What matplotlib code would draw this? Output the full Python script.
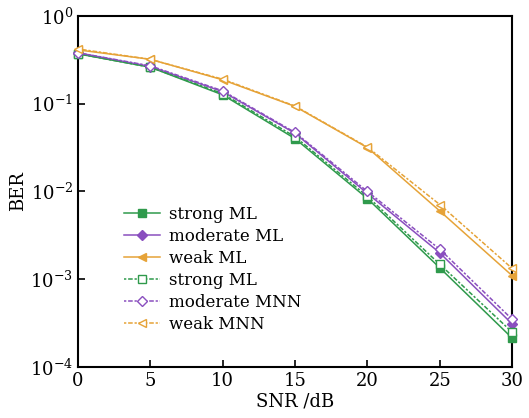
import matplotlib
matplotlib.use("Agg")
import matplotlib.pyplot as plt
from matplotlib.ticker import LogLocator, NullLocator

# --- data ---
snr = [0, 5, 10, 15, 20, 25, 30]
strong_ml = [0.37, 0.26, 0.126, 0.040, 0.0083, 0.00135, 0.000214]
moderate_ml = [0.38, 0.265, 0.137, 0.046, 0.0095, 0.0020, 0.00031]
weak_ml = [0.41, 0.32, 0.187, 0.093, 0.0316, 0.0060, 0.00110]
strong_mnn = [0.37, 0.26, 0.13, 0.042, 0.0088, 0.00148, 0.00025]
moderate_mnn = [0.38, 0.27, 0.14, 0.047, 0.0100, 0.0022, 0.00035]
weak_mnn = [0.42, 0.32, 0.19, 0.094, 0.0320, 0.0071, 0.00133]

GREEN = "#2f9a4c"
PURPLE = "#8a4fbf"
ORANGE = "#e6a338"

plt.rcParams.update({
    "font.family": "DejaVu Serif",
    "font.size": 12,
    "mathtext.fontset": "dejavuserif",
})

fig = plt.figure(figsize=(5.29, 4.18), dpi=100)
ax = fig.add_axes([0.1474, 0.122, 0.8206, 0.840])

series = [
    (strong_ml, GREEN, "-", "s", True, "strong ML"),
    (moderate_ml, PURPLE, "-", "D", True, "moderate ML"),
    (weak_ml, ORANGE, "-", "<", True, "weak ML"),
    (strong_mnn, GREEN, (0, (1.5, 1.2, 3, 1.2)), "s", False, "strong ML"),
    (moderate_mnn, PURPLE, (0, (1.5, 1.2, 3, 1.2)), "D", False, "moderate MNN"),
    (weak_mnn, ORANGE, (0, (1.5, 1.2, 3, 1.2)), "<", False, "weak MNN"),
]
for ys, c, ls, mk, filled, lab in series:
    ax.plot(snr, ys, color=c, ls=ls, lw=1.1, marker=mk,
            ms=6 if mk != "D" else 5.5,
            mfc=c if filled else "white", mec=c, mew=1.0,
            label=lab, clip_on=False, zorder=3)

ax.set_yscale("log")
ax.set_xlim(0, 30)
ax.set_ylim(1e-4, 1)
ax.set_xticks([0, 5, 10, 15, 20, 25, 30])
ax.yaxis.set_major_locator(LogLocator(base=10, numticks=10))
ax.yaxis.set_minor_locator(NullLocator())
ax.tick_params(direction="in", length=5, width=1.2, labelsize=13)
for sp in ax.spines.values():
    sp.set_linewidth(1.5)

ax.set_xlabel("SNR /dB", fontsize=13, labelpad=2)
ax.set_ylabel("BER", fontsize=13, labelpad=2)

ax.legend(loc="lower left", bbox_to_anchor=(0.09, 0.077), frameon=False,
          fontsize=12, handlelength=2.2, labelspacing=0.3, handletextpad=0.5,
          borderaxespad=0)

fig.savefig("out.png", dpi=100, facecolor="white")
